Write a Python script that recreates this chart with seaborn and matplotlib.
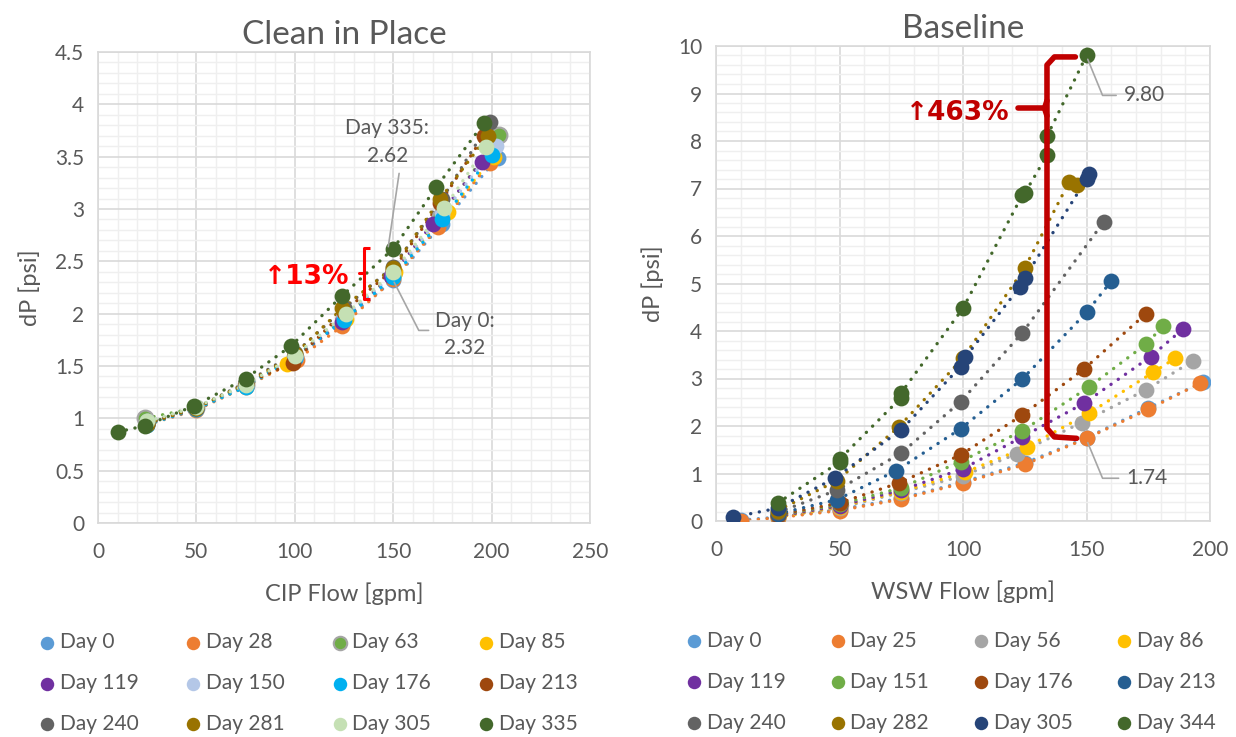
import numpy as np
import pandas as pd
import seaborn as sns
import matplotlib.pyplot as plt
from matplotlib.ticker import MultipleLocator

# ---- data: Clean in Place (left) ----
cip_days = ["Day 0", "Day 28", "Day 63", "Day 85", "Day 119", "Day 150",
            "Day 176", "Day 213", "Day 240", "Day 281", "Day 305", "Day 335"]
cip_flow = [
    [25, 50, 75, 100, 125, 150, 175, 203],
    [25, 50, 75, 101, 124, 150, 173, 199],
    [24, 50, 75, 100, 125, 150, 174, 204],
    [25, 50, 75, 96, 126, 151, 178, 201],
    [25, 50, 75, 100, 124, 149, 170, 195],
    [25, 50, 75, 100, 125, 150, 175, 202],
    [25, 50, 75, 100, 125, 150, 175, 200],
    [25, 50, 75, 99, 125, 150, 174, 196],
    [25, 50, 75, 100, 125, 150, 175, 199],
    [25, 50, 75, 100, 124, 150, 174, 198],
    [25, 50, 75, 100, 126, 150, 176, 197],
    [10, 24, 49, 75, 98, 124, 150, 172, 196],
]
cip_dp = [
    [0.95, 1.09, 1.31, 1.57, 1.93, 2.32, 2.86, 3.49],
    [0.94, 1.08, 1.30, 1.56, 1.88, 2.33, 2.83, 3.44],
    [1.00, 1.10, 1.32, 1.59, 1.96, 2.38, 2.92, 3.71],
    [0.96, 1.09, 1.31, 1.52, 1.95, 2.40, 2.97, 3.50],
    [0.95, 1.09, 1.31, 1.58, 1.92, 2.36, 2.86, 3.45],
    [0.97, 1.10, 1.31, 1.59, 1.97, 2.37, 2.95, 3.60],
    [0.94, 1.09, 1.30, 1.58, 1.94, 2.35, 2.90, 3.52],
    [0.95, 1.10, 1.33, 1.53, 2.02, 2.42, 3.06, 3.70],
    [0.96, 1.10, 1.34, 1.62, 2.05, 2.45, 3.10, 3.83],
    [0.95, 1.10, 1.33, 1.61, 2.05, 2.44, 3.10, 3.70],
    [0.97, 1.11, 1.32, 1.60, 2.00, 2.40, 3.01, 3.59],
    [0.87, 0.93, 1.12, 1.38, 1.69, 2.17, 2.62, 3.21, 3.82],
]
cip_colors = ["#5B9BD5", "#ED7D31", "#70AD47", "#FFC000", "#7030A0", "#B4C7E7",
              "#00B0F0", "#9E480E", "#636363", "#997300", "#C5E0B4", "#43682B"]

# ---- data: Baseline (right) ----
base_days = ["Day 0", "Day 25", "Day 56", "Day 86", "Day 119", "Day 151",
             "Day 176", "Day 213", "Day 240", "Day 282", "Day 305", "Day 344"]
base_flow = [
    [10, 25, 50, 75, 100, 125, 150, 175, 197],
    [10, 25, 50, 75, 100, 125, 150, 175, 196],
    [25, 50, 75, 100, 122, 148, 174, 193],
    [25, 50, 75, 101, 126, 151, 177, 186],
    [25, 50, 75, 100, 124, 149, 176, 189],
    [25, 50, 75, 99, 124, 151, 174, 181],
    [25, 50, 74, 99, 124, 149, 174],
    [25, 49, 73, 99, 124, 150, 160],
    [25, 49, 75, 99, 124, 157],
    [25, 49, 74, 100, 125, 143, 146],
    [7, 25, 48, 75, 99, 101, 123, 125, 150, 151],
    [25, 50, 50, 75, 75, 100, 124, 125, 134, 134, 150],
]
base_dp = [
    [0.02, 0.08, 0.24, 0.48, 0.82, 1.22, 1.75, 2.38, 2.92],
    [0.00, 0.07, 0.22, 0.46, 0.80, 1.19, 1.74, 2.35, 2.90],
    [0.09, 0.28, 0.60, 0.95, 1.42, 2.07, 2.76, 3.37],
    [0.08, 0.30, 0.62, 1.03, 1.56, 2.27, 3.13, 3.43],
    [0.10, 0.32, 0.65, 1.10, 1.77, 2.48, 3.46, 4.04],
    [0.12, 0.35, 0.70, 1.25, 1.90, 2.82, 3.72, 4.10],
    [0.13, 0.38, 0.80, 1.39, 2.23, 3.20, 4.36],
    [0.15, 0.45, 1.06, 1.94, 2.99, 4.39, 5.05],
    [0.18, 0.65, 1.43, 2.51, 3.96, 6.30],
    [0.22, 0.85, 1.98, 3.43, 5.33, 7.14, 7.08],
    [0.08, 0.27, 0.90, 1.92, 3.25, 3.45, 4.93, 5.12, 7.20, 7.30],
    [0.38, 1.24, 1.30, 2.60, 2.70, 4.48, 6.86, 6.90, 7.70, 8.10, 9.80],
]
base_colors = ["#5B9BD5", "#ED7D31", "#A5A5A5", "#FFC000", "#7030A0", "#70AD47",
               "#9E480E", "#255E91", "#636363", "#997300", "#264478", "#43682B"]


def to_long(days, flows, dps):
    rows = []
    for d, fl, dp in zip(days, flows, dps):
        for f, v in zip(fl, dp):
            rows.append({"day": d, "flow": f, "dp": v})
    return pd.DataFrame(rows)


cip = to_long(cip_days, cip_flow, cip_dp)
base = to_long(base_days, base_flow, base_dp)

sns.set_style("white")
plt.rcParams['font.family'] = ['Lato', 'DejaVu Sans']
TXT = "#595959"
RED = "#FF0000"
DRED = "#C00000"

fig = plt.figure(figsize=(12.36, 7.37), dpi=100)
ax1 = fig.add_axes([98 / 1236, 1 - 523 / 737, 492 / 1236, 471 / 737])
ax2 = fig.add_axes([716 / 1236, 1 - 521 / 737, 494 / 1236, 475 / 737])


def draw(ax, df, days, colors, edge_over=None):
    for i, (d, c) in enumerate(zip(days, colors)):
        sub = df[df.day == d].sort_values("flow", kind="stable")
        ax.plot(sub.flow, sub.dp, color=c, lw=2.4, linestyle=(0, (0.05, 2.6)),
                dash_capstyle="round", zorder=2)
        ec = edge_over.get(d, c) if edge_over else c
        sns.scatterplot(data=sub, x="flow", y="dp", color=c, edgecolor=ec,
                        linewidth=1.5 if ec != c else 0, s=130, ax=ax,
                        label=d, zorder=3)


draw(ax1, cip, cip_days, cip_colors, edge_over={"Day 63": "#A5A5A5"})
draw(ax2, base, base_days, base_colors)


def style(ax, xmax, ymax, xmaj, ymaj, xmin, ymin, xlabel, title):
    ax.set_xlim(0, xmax)
    ax.set_ylim(0, ymax)
    ax.xaxis.set_major_locator(MultipleLocator(xmaj))
    ax.yaxis.set_major_locator(MultipleLocator(ymaj))
    ax.xaxis.set_minor_locator(MultipleLocator(xmin))
    ax.yaxis.set_minor_locator(MultipleLocator(ymin))
    ax.grid(which="major", color="#D9D9D9", lw=1.2, zorder=0)
    ax.grid(which="minor", color="#EFEFEF", lw=1.0, zorder=0)
    ax.set_axisbelow(True)
    for sp in ax.spines.values():
        sp.set_color("#D9D9D9")
        sp.set_linewidth(1.2)
    ax.tick_params(which="both", length=0, labelsize=15, colors=TXT)
    ax.tick_params(axis="x", pad=14)
    ax.tick_params(axis="y", pad=10)
    ax.set_xlabel(xlabel, fontsize=17, color=TXT, labelpad=14)
    ax.set_ylabel("dP [psi]", fontsize=17, color=TXT, labelpad=10)
    ax.set_title(title, fontsize=24, color=TXT, pad=6)


style(ax1, 250, 4.5, 50, 0.5, 10, 0.1, "CIP Flow [gpm]", "Clean in Place")
style(ax2, 200, 10, 50, 1, 10, 0.2, "WSW Flow [gpm]", "Baseline")
ax1.yaxis.set_major_formatter(plt.FuncFormatter(lambda v, p: f"{v:g}"))

order = [0, 4, 8, 1, 5, 9, 2, 6, 10, 3, 7, 11]
for ax, x0, cs in [(ax1, -0.165, 2.1), (ax2, -0.105, 1.95)]:
    h, l = ax.get_legend_handles_labels()
    ax.legend([h[i] for i in order], [l[i] for i in order], ncol=4,
              loc="upper left", bbox_to_anchor=(x0, -0.192), frameon=False,
              fontsize=15, labelcolor=TXT, handletextpad=0.05,
              columnspacing=cs, labelspacing=1.0, markerscale=0.85,
              handlelength=1.1)

# ---- annotations, left ----
lc = "#A6A6A6"
ax1.text(147, 3.64, "Day 335:\n2.62", ha="center", va="center", fontsize=15,
         color=TXT, linespacing=1.45)
ax1.plot([153, 147.5], [3.34, 2.64], color=lc, lw=1.2, zorder=4)
ax1.text(186.5, 1.8, "Day 0:\n2.32", ha="center", va="center", fontsize=15,
         color=TXT, linespacing=1.45)
ax1.plot([150.5, 163, 168], [2.30, 1.84, 1.84], color=lc, lw=1.2, zorder=4)
ax1.text(106, 2.35, "↑13%", ha="center", va="center", fontsize=19,
         fontweight="bold", color=RED, family=["DejaVu Sans"])
ax1.plot([138, 135, 135, 138], [2.63, 2.63, 2.14, 2.14], color=RED, lw=2.2,
         zorder=5, solid_capstyle="butt")
ax1.plot([132.5, 135], [2.39, 2.39], color=RED, lw=2.2, zorder=5)

# ---- annotations, right ----
ax2.text(98, 8.6, "↑463%", ha="center", va="center", fontsize=19,
         fontweight="bold", color=DRED, family=["DejaVu Sans"])
ax2.plot([145.5, 137, 134, 134, 137, 146],
         [9.77, 9.77, 9.6, 1.95, 1.77, 1.74], color=DRED, lw=4, zorder=5,
         solid_joinstyle="round")
ax2.plot([122.3, 133], [8.69, 8.69], color=DRED, lw=4, zorder=5)
ax2.plot([134, 133, 134], [8.85, 8.69, 8.53], color=DRED, lw=4, zorder=5)
ax2.text(165, 8.96, "9.80", ha="left", va="center", fontsize=15, color=TXT)
ax2.plot([150.5, 156.5, 162], [9.72, 8.96, 8.96], color=lc, lw=1.2, zorder=4)
ax2.text(166, 0.9, "1.74", ha="left", va="center", fontsize=15, color=TXT)
ax2.plot([150.5, 156.5, 163], [1.65, 0.9, 0.9], color=lc, lw=1.2, zorder=4)

fig.savefig("out.png", dpi=100)
